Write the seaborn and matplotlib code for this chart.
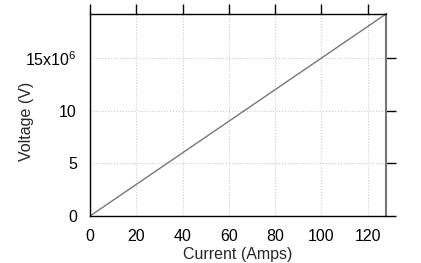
import matplotlib
matplotlib.use("Agg")
import matplotlib.pyplot as plt
import seaborn as sns
import pandas as pd

current = [0, 128]
voltage = [0, 19.2e6]
x_ticks = [0, 20, 40, 60, 80, 100, 120]
y_ticks = [0, 5e6, 10e6, 15e6]
y_labels = ["0", "5", "10", "15x10$^{6}$"]

sns.set_theme(style="white")
plt.rcParams['font.family'] = ['Liberation Sans', 'DejaVu Sans']
plt.rcParams['mathtext.fontset'] = 'custom'
plt.rcParams['mathtext.rm'] = 'Liberation Sans'

df = pd.DataFrame({"Current": current, "Voltage": voltage})

fig = plt.figure(figsize=(4.21, 2.63), dpi=100)
ax = fig.add_axes([90/421, 47/263, 296/421, 202/263])
sns.lineplot(data=df, x="Current", y="Voltage", ax=ax, color="#777777", linewidth=1.0)

ax.set_xlim(0, 128)
ax.set_ylim(0, 19.2e6)
ax.set_xticks(x_ticks)
ax.set_yticks(y_ticks)
ax.set_yticklabels(y_labels)
ax.grid(True, color="#cccccc", linestyle=":", linewidth=0.8)
for s in ax.spines.values():
    s.set_color("black")
    s.set_linewidth(1.0)
ax.spines["right"].set_color("#777777")
ax.spines["right"].set_linewidth(1.5)
ax.tick_params(axis="both", which="both", direction="out", length=7.5, width=1,
               colors="black", labelsize=11.5, top=True, right=True,
               labeltop=False, labelright=False, pad=2)
ax.set_xlabel("Current (Amps)", fontsize=11.5, labelpad=2)
ax.set_ylabel("Voltage (V)", fontsize=11.5)
ax.yaxis.set_label_coords(-56/296, 0.47)
fig.savefig("out.png", dpi=100)
